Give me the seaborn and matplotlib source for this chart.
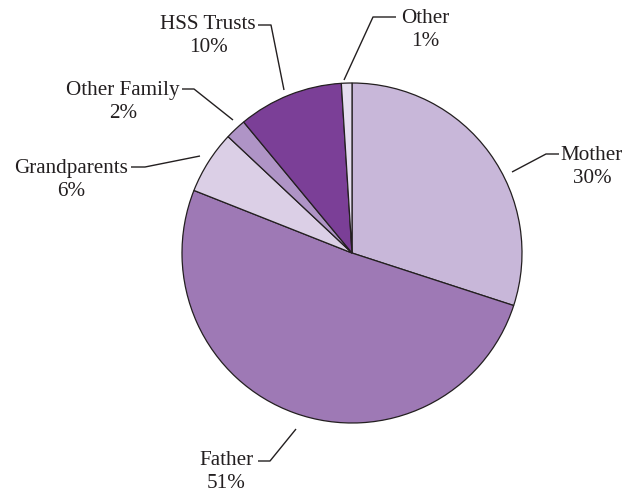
import matplotlib
matplotlib.use("Agg")
import matplotlib.pyplot as plt
import seaborn as sns
import pandas as pd

# Funding sources, clockwise from 12 o'clock
sources = ["Mother", "Father", "Grandparents", "Other Family", "HSS Trusts", "Other"]
shares = [30, 51, 6, 2, 10, 1]
colors = ["#C8B7D9", "#9E79B5", "#DBCFE6", "#AF94C6", "#7B3F97", "#E5DDEF"]

df = pd.DataFrame({"source": sources, "share": shares, "color": colors})

sns.set_theme(style="white")
plt.rcParams["font.family"] = ["Liberation Serif", "DejaVu Serif"]

W, H = 629, 497
ink = "#231F20"

fig = plt.figure(figsize=(W / 100, H / 100), dpi=100)
ax = fig.add_axes([0, 0, 1, 1])


def px(x, y):
    """Convert image-style coordinates (origin top-left) to data coordinates."""
    return x, H - y


cx, cy = px(352, 253)
ax.pie(
    df["share"],
    colors=df["color"],
    startangle=90,
    counterclock=False,
    center=(cx, cy),
    radius=170,
    wedgeprops=dict(edgecolor=ink, linewidth=0.9),
)
ax.set_xlim(0, W)
ax.set_ylim(0, H)
ax.set_aspect("equal")
ax.axis("off")

# label anchor (text centre) and leader-line path for each wedge
label_pos = {
    "Mother": (592, 167),
    "Father": (226, 472),
    "Grandparents": (71, 180),
    "Other Family": (123, 102),
    "HSS Trusts": (208, 36),
    "Other": (425, 30),
}
leaders = {
    "Mother": [(512, 172), (546, 154), (559, 154)],
    "Father": [(296, 429), (270, 461), (258, 461)],
    "Grandparents": [(131, 167), (145, 167), (200, 156)],
    "Other Family": [(182, 89), (194, 89), (233, 120)],
    "HSS Trusts": [(258, 25), (271, 25), (284, 90)],
    "Other": [(344, 80), (373, 17), (396, 17)],
}

for _, row in df.iterrows():
    name = row["source"]
    x, y = px(*label_pos[name])
    ax.text(x, y, f"{name}\n{row['share']}%", ha="center", va="center",
            fontsize=15.2, color=ink, linespacing=1.25)
    pts = [px(a, b) for a, b in leaders[name]]
    ax.plot([p[0] for p in pts], [p[1] for p in pts], color=ink, lw=1.0,
            solid_capstyle="butt")

fig.savefig("out.png", dpi=100, facecolor="white")
